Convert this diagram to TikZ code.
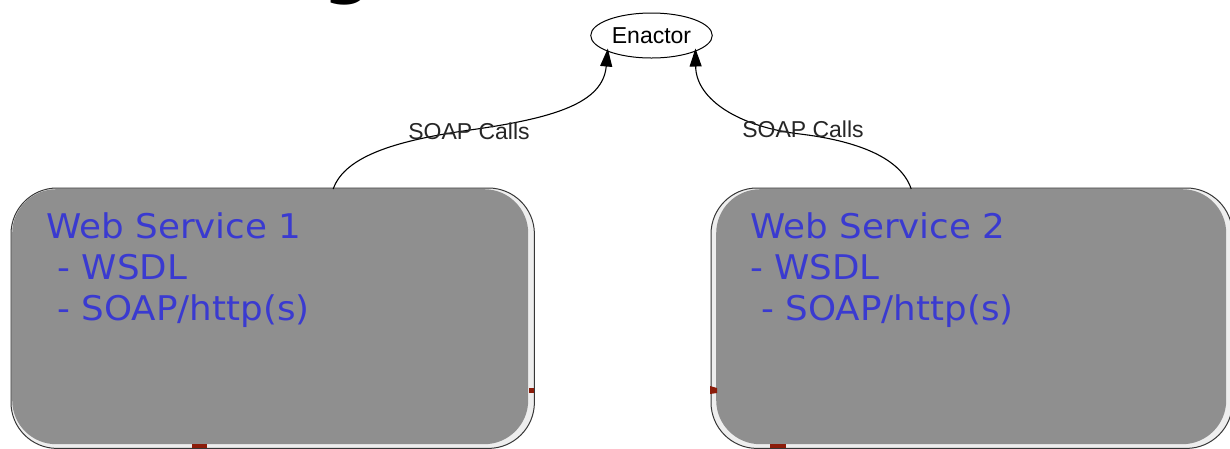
\documentclass[tikz,border=0pt]{standalone}
\usepackage{fontspec}
\setmainfont{DejaVu Sans}
\newfontfamily\wsfont[FakeStretch=1.05]{DejaVu Sans}
\newfontfamily\labelfont{Liberation Sans}
\usetikzlibrary{arrows.meta,backgrounds,calc,shapes.geometric}
\definecolor{boxgray}{RGB}{143,143,143}
\definecolor{rimlight}{RGB}{238,238,238}
\definecolor{rimdark}{RGB}{55,55,55}
\definecolor{wsblue}{RGB}{58,58,208}
\definecolor{port}{RGB}{140,28,10}
\tikzset{
  wsbox/.style={rectangle, rounded corners=44, fill=boxgray, draw=none,
    minimum width=512, minimum height=255, anchor=north west, inner sep=0},
  wsrim/.style={fill=rimlight, draw=rimdark, line width=1, rounded corners=46},
  wslabel/.style={text=wsblue, align=left, anchor=north west, inner sep=0,
    font=\wsfont\fontsize{34}{41}\selectfont},
  lbl/.style={font=\labelfont\fontsize{23}{27}\selectfont, inner sep=0, text=black!85},
  conn/.style={line width=1.1pt, shorten >=-3pt, -{Triangle[length=18pt, width=12pt]}},
}
\begin{document}
\begin{tikzpicture}[x=1pt,y=-1pt]
\useasboundingbox (0,0) rectangle (1230,448);
\clip (0,0) rectangle (1230,448);

% heading, mostly above the page
\node[font=\bfseries\fontsize{68}{68}\selectfont, anchor=base, inner sep=0] (title) at (348,-10) {g};

% enactor
\node[ellipse, draw, line width=1pt, minimum width=117, minimum height=45,
      font=\labelfont\fontsize{23}{27}\selectfont] (enactor) at (651.5,35.5) {Enactor};

% web service boxes
\node[wsbox, minimum width=516, minimum height=255] (ws1) at (12,189) {};
\node[wsbox, minimum width=510, minimum height=255] (ws2) at (716,189) {};
\begin{scope}[on background layer]
  \draw[wsrim] ([shift={(-1,-1)}]ws1.north west) rectangle ([shift={(6,4)}]ws1.south east);
  \draw[wsrim] ([shift={(-5,-1)}]ws2.north west) rectangle ([shift={(6,4)}]ws2.south east);
\end{scope}

\node[wslabel] (ws1txt) at (46,212) {Web Service 1\\\ - WSDL\\\ - SOAP/http(s)};
\node[wslabel] (ws2txt) at (750,212) {Web Service 2\\- WSDL\\\ - SOAP/http(s)};

% ports
\fill[port] (529,388) rectangle (534,393);
\fill[port] (192,444) rectangle (207,448);
\fill[port] (710,386) -- (717,388) -- (717,393) -- (710,394) -- cycle;
\fill[port] (770,444) rectangle (786,448);

% calls
\draw[conn] ([xshift=63]ws1.north) .. controls (345,155) and (400,140) .. (470,130)
  .. controls (555,118) and (603,103) .. (enactor.200);
\draw[conn] ([xshift=-60]ws2.north) .. controls (900,155) and (850,140) .. (800,134)
  .. controls (740,127) and (696,100) .. (enactor.340);

\node[lbl] (call1) at (469,131) {SOAP Calls};
\node[lbl] (call2) at (803,129) {SOAP Calls};
\end{tikzpicture}
\end{document}
